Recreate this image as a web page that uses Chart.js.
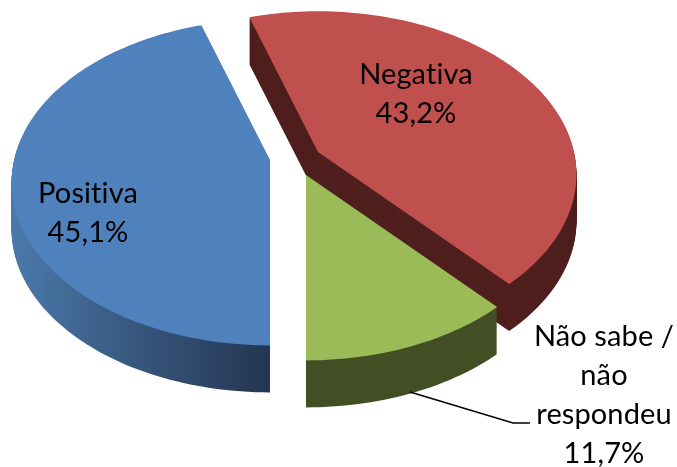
<!DOCTYPE html>
<html>
<head>
<meta charset="utf-8">
<style>
  html, body { margin: 0; padding: 0; background: #fff; }
  canvas { display: block; }
</style>
<script src="https://cdn.jsdelivr.net/npm/chart.js@4"></script>
</head>
<body>
<canvas id="c-pie" width="677" height="467"></canvas>
<script>
const categories = ['Positiva', 'Negativa', 'Não sabe / não respondeu'];
const shares = [45.1, 43.2, 11.7];
const labelLines = [['Positiva'], ['Negativa'], ['Não sabe /', 'não', 'respondeu']];

const topColors = ['#4f81bd', '#c0504d', '#9bbb59'];

// Look of the tilted pie: where each exploded slice's tip lands, and the lens
const tips = [[270, 160], [318, 152], [306, 175]];
const labelAt = [[88, 194], [416, 75], [604, 337]];
const lineGap = 39;
const DEPTH = 47;
const RX = 256, RY = 160, PERSP = 0.137;

// Stands in for the 2d context while an ArcElement draws, bends the path into perspective
class TiltPen {
    constructor(ctx, tip, lift, fill) {
        this.ctx = ctx;
        this.tip = tip;
        this.lift = lift;
        this.paint = fill;
    }
    put(u, v) {
        const w = 1 - PERSP * v;
        const sx = this.tip[0] + RX * u / w;
        const sy = this.tip[1] + RY * v / w + this.lift;
        this.ctx.lineTo(sx, sy);
    }
    arc(x, y, r, a0, a1) {
        if(r <= 0) { this.put(0, 0); return; }
        const n = Math.ceil(Math.abs(a1 - a0) * 40);
        for(let i = 0; i <= n; i++) {
            const a = a0 + (a1 - a0) * i / n;
            this.put(Math.cos(a), Math.sin(a));
        }
    }
    beginPath() { this.ctx.beginPath(); }
    closePath() { this.ctx.closePath(); }
    fill() { this.ctx.fillStyle = this.paint; this.ctx.fill(); }
    moveTo() {}
    lineTo() { this.put(0, 0); }
    save() {}
    restore() {}
    translate() {}
    stroke() {}
    clip() {}
    setLineDash() {}
}

function wallFill(ctx, i) {
    if(i === 1) return '#4f1f1e';
    if(i === 2) return '#434f24';
    const g = ctx.createLinearGradient(15, 0, 268, 0);
    g.addColorStop(0, '#4a78aa');
    g.addColorStop(0.45, '#38597f');
    g.addColorStop(1, '#243652');
    return g;
}

const pie3d = {
    id: 'pie3d',
    beforeDatasetsDraw(chart) {
        const ctx = chart.ctx;
        const arcs = chart.getDatasetMeta(0).data;
        ctx.save();
        [1, 2, 0].forEach(i => {
            const wall = wallFill(ctx, i);
            for(let d = DEPTH; d > 0; d--) {
                arcs[i].draw(new TiltPen(ctx, tips[i], d, wall));
            }
            arcs[i].draw(new TiltPen(ctx, tips[i], 0, topColors[i]));
        });
        ctx.restore();
        return false; // slices are done, skip the flat pie
    },
    afterDraw(chart) {
        const ctx = chart.ctx;
        ctx.save();
        // leader line of the small slice
        ctx.strokeStyle = '#000';
        ctx.lineWidth = 1.5;
        ctx.beginPath();
        ctx.moveTo(410, 392);
        ctx.lineTo(513, 423);
        ctx.lineTo(530, 423);
        ctx.stroke();

        ctx.fillStyle = '#000';
        ctx.font = '29px Lato';
        ctx.letterSpacing = '0.1px'; // also stops the "ti" ligature
        ctx.textAlign = 'center';
        ctx.textBaseline = 'middle';
        shares.forEach((v, i) => {
            const lines = labelLines[i].concat(v.toFixed(1).replace('.', ',') + '%');
            lines.forEach((t, k) => ctx.fillText(t, labelAt[i][0], labelAt[i][1] + k * lineGap));
        });
        ctx.restore();
    }
};

new Chart(document.getElementById('c-pie'), {
    type: 'pie',
    data: { labels: categories, datasets: [{ data: shares, backgroundColor: topColors, borderWidth: 0 }] },
    options: {
        responsive: false,
        animation: false,
        rotation: 180,
        plugins: { legend: { display: false }, tooltip: { enabled: false } }
    },
    plugins: [pie3d]
});
</script>
</body>
</html>
